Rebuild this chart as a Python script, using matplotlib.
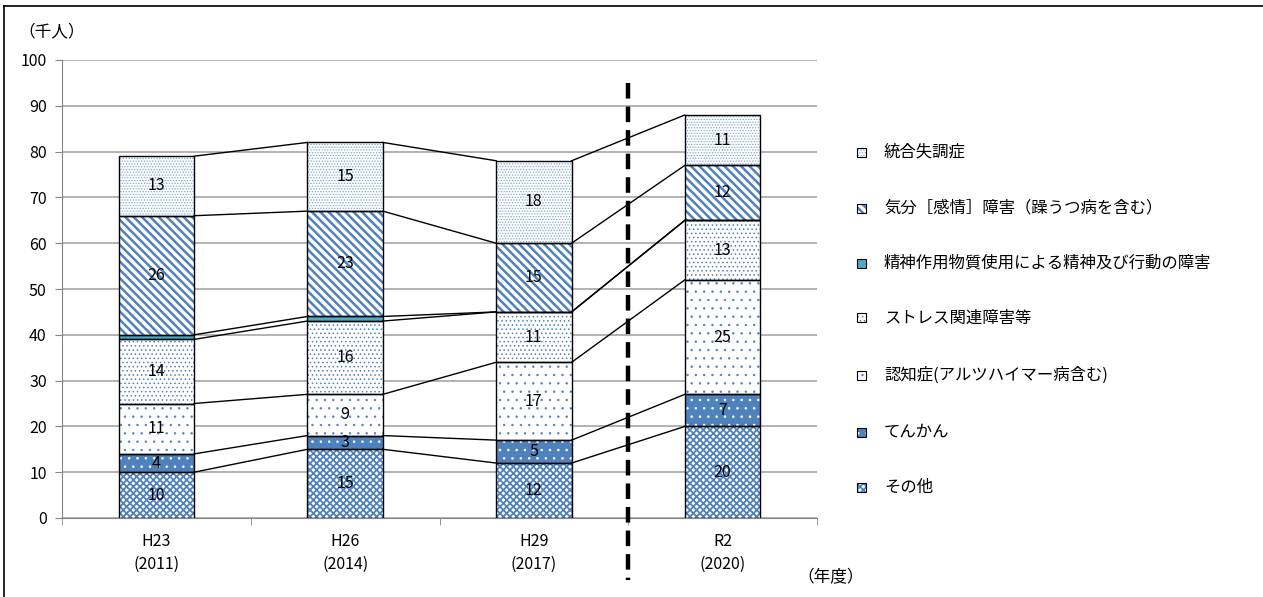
import numpy as np
import matplotlib
matplotlib.use('Agg')
import matplotlib.pyplot as plt
from matplotlib.patches import Rectangle
from matplotlib.lines import Line2D

plt.rcParams['font.family'] = ['Noto Sans CJK JP', 'DejaVu Sans']

years = ['H23\n(2011)', 'H26\n(2014)', 'H29\n(2017)', 'R2\n(2020)']
# bottom -> top
series = ['その他', 'てんかん', '認知症(アルツハイマー病含む)', 'ストレス関連障害等',
          '精神作用物質使用による精神及び行動の障害', '気分［感情］障害（躁うつ病を含む）', '統合失調症']
sonota = [10, 15, 12, 20]
tenkan = [4, 3, 5, 7]
ninchi = [11, 9, 17, 25]
stress = [14, 16, 11, 13]
seishin = [1, 1, 0, 0]
kibun = [26, 23, 15, 12]
tougou = [13, 15, 18, 11]
values = [sonota, tenkan, ninchi, stress, seishin, kibun, tougou]
show_label = [True, True, True, True, False, True, True]

blue = '#4F81BD'
# face, hatch, hatch colour, hatch linewidth
styles = [
    ('white', 'xxxxx', blue, 1.3),
    (blue, '..', 'white', 0.6),
    ('white', '..', blue, 0.5),
    ('white', '....', blue, 0.6),
    ('#4BACC6', None, None, 1.0),
    ('white', '\\\\\\\\', blue, 1.8),
    ('white', '......', '#7FA6D9', 0.6),
]

fig = plt.figure(figsize=(12.63, 5.97), dpi=100)
ax = fig.add_axes([62 / 1263, 1 - 518 / 597, 755 / 1263, 458 / 597])

x = np.arange(len(years))
w = 0.4
bottom = np.zeros(len(years))
tops = []
for vals, (fc, hatch, hc, hlw), lab in zip(values, styles, show_label):
    v = np.array(vals, dtype=float)
    with plt.rc_context({'hatch.linewidth': hlw}):
        if hatch:
            ax.bar(x, v, w, bottom=bottom, color=fc, hatch=hatch, edgecolor=hc, linewidth=0, zorder=2)
        else:
            ax.bar(x, v, w, bottom=bottom, color=fc, linewidth=0, zorder=2)
    ax.bar(x, v, w, bottom=bottom, fill=False, edgecolor='black', linewidth=1.0, zorder=3)
    if lab:
        for xi, b, vi in zip(x, bottom, v):
            if vi > 0:
                ax.text(xi, b + vi / 2, f'{int(vi)}', ha='center', va='center', fontsize=11.5,
                        color='black', zorder=5)
    bottom = bottom + v
    tops.append(bottom.copy())

# connector lines between bars
for t in tops:
    for i in range(len(years) - 1):
        ax.plot([x[i] + w / 2, x[i + 1] - w / 2], [t[i], t[i + 1]], color='black', lw=1.0, zorder=3)

ax.set_xlim(-0.5, len(years) - 0.5)
ax.set_ylim(0, 100)
ax.set_yticks(range(0, 101, 10))
ax.yaxis.grid(True, color='#A6A6A6', lw=1.2, zorder=0)
ax.set_axisbelow(True)
ax.set_xticks(x)
ax.set_xticklabels(years, fontsize=11.5, linespacing=1.4)
ax.set_xticks(np.arange(-0.5, len(years), 1), minor=True)
ax.tick_params(axis='x', which='major', length=0, pad=11)
ax.tick_params(axis='x', which='minor', length=5, color='#868686', direction='out')
ax.tick_params(axis='y', length=5, color='#868686', labelsize=11.5, pad=6)
for s in ['top', 'right']:
    ax.spines[s].set_visible(False)
ax.spines['left'].set_color('#868686')
ax.spines['bottom'].set_color('#868686')

# dashed separator
fig.add_artist(Line2D([628 / 1263, 628 / 1263], [1 - 83 / 597, 1 - 580 / 597], color='black',
                      lw=3.2, linestyle=(0, (3.5, 1.8))))

fig.text(18 / 1263, 1 - 32 / 597, '（千人）', fontsize=12, va='center', ha='left')
fig.text(797 / 1263, 1 - 578 / 597, '（年度）', fontsize=12, va='center', ha='left')

# legend (top to bottom)
leg_y = [152, 208, 263, 318, 375, 432, 487]
for i, yy in enumerate(leg_y):
    k = len(series) - 1 - i
    fc, hatch, hc, hlw = styles[k]
    yf = 1 - yy / 597
    sx, sw, sh = 857 / 1263, 9 / 1263, 9 / 597
    with plt.rc_context({'hatch.linewidth': hlw}):
        if hatch:
            fig.add_artist(Rectangle((sx, yf - sh / 2), sw, sh, facecolor=fc, hatch=hatch,
                                     edgecolor=hc, linewidth=0))
        else:
            fig.add_artist(Rectangle((sx, yf - sh / 2), sw, sh, facecolor=fc, linewidth=0))
    fig.add_artist(Rectangle((sx, yf - sh / 2), sw, sh, fill=False, edgecolor='black', linewidth=0.8))
    fig.text(884 / 1263, yf, series[k], fontsize=11.8, va='center', ha='left')

# frame
fig.add_artist(Line2D([4 / 1263, 4 / 1263], [0, 1 - 6 / 597], color='black', lw=1.2))
fig.add_artist(Line2D([4 / 1263, 1], [1 - 6 / 597, 1 - 6 / 597], color='black', lw=1.2))

fig.savefig('out.png', dpi=100)
